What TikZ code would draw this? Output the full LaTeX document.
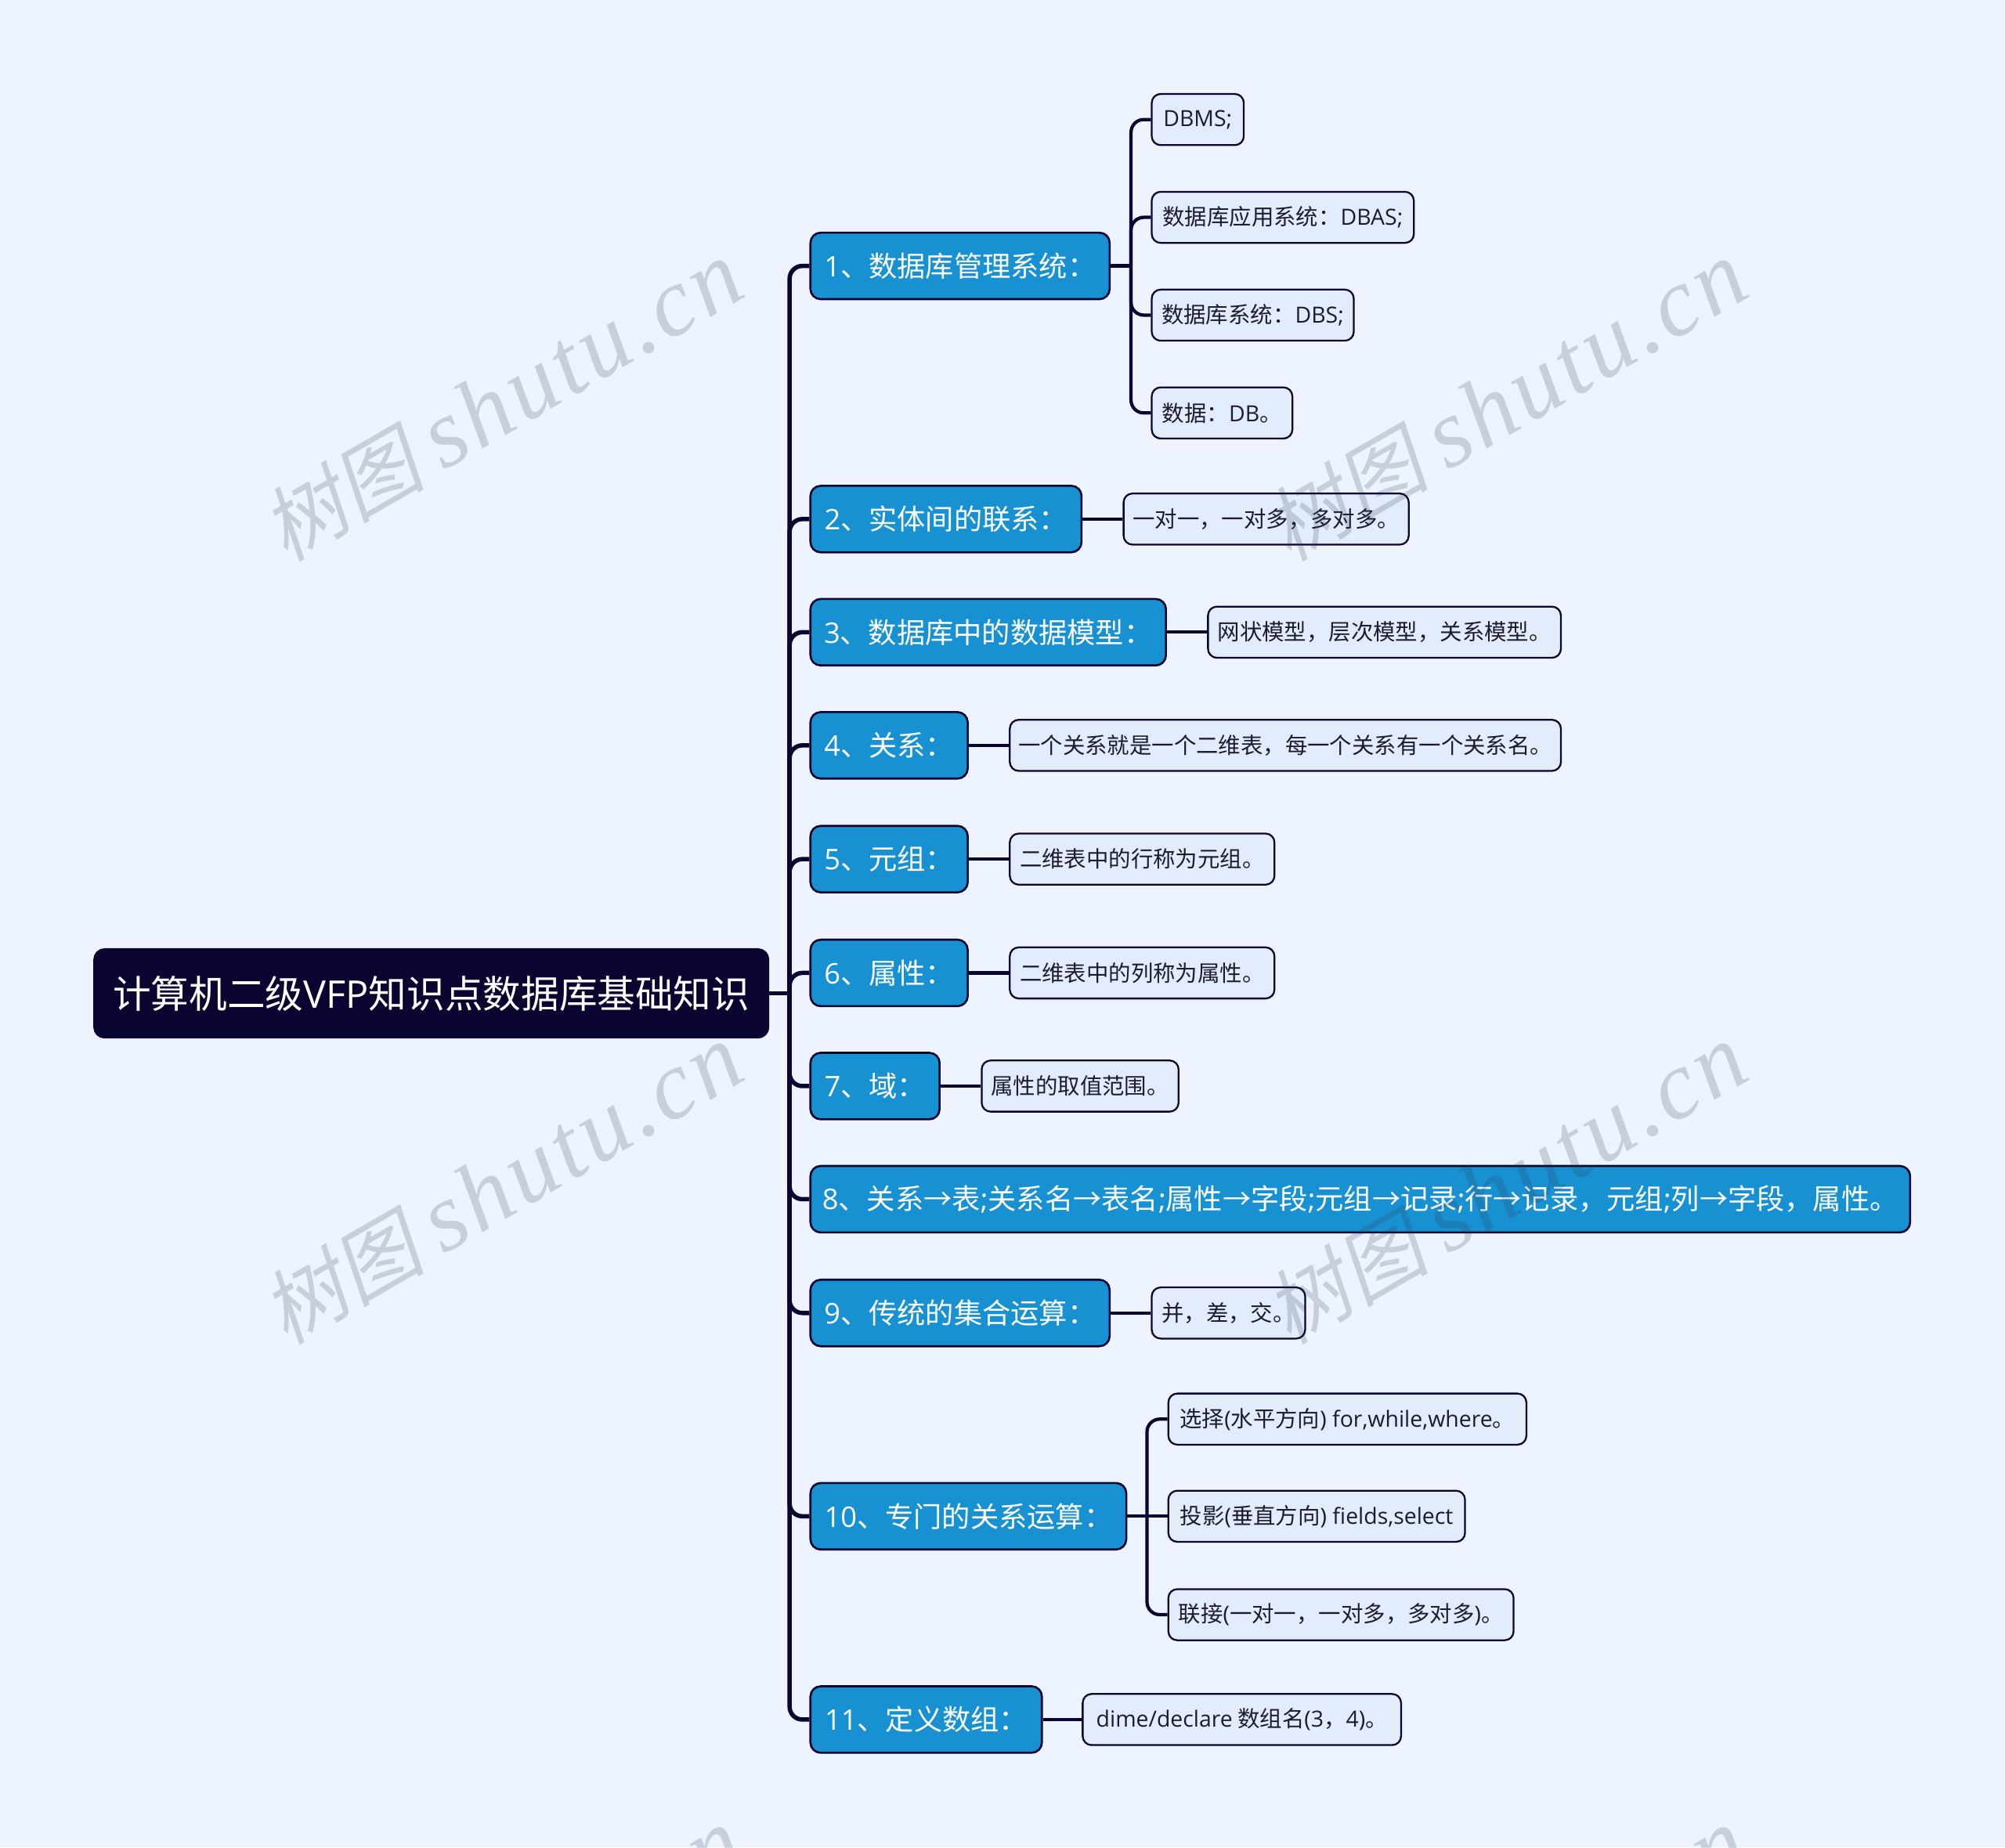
\documentclass[tikz,border=0pt]{standalone}
\usepackage{fontspec}
\usepackage{xcolor}
\usetikzlibrary{positioning}
\setmainfont{Noto Sans CJK SC}
\newfontfamily\latfont{Open Sans}
\newfontfamily\marklat{Liberation Serif}[ItalicFont=* Italic,LetterSpace=4]
\newfontfamily\markcjk{Noto Sans CJK SC}[FakeSlant=0.2]
\newcommand{\lat}[1]{{\latfont #1}}
\newcommand{\cma}{\symbol{"FF0C}}
\newcommand{\cln}{\symbol{"FF1A}}
\definecolor{bgcol}{HTML}{EEF4FF}
\definecolor{navy}{HTML}{0A0430}
\definecolor{topicblue}{HTML}{1791D2}
\definecolor{leaffill}{HTML}{E3ECFB}
\definecolor{leaftext}{HTML}{1C1C2C}
\definecolor{markcol}{HTML}{303B50}
\tikzset{
	rootbox/.style={anchor=west,draw=navy,fill=navy,text=white,rounded corners=4pt,line width=.8pt,minimum height=34.5pt,inner sep=0pt,font=\fontsize{14.9}{16}\selectfont},
	topicbox/.style={anchor=west,draw=navy,fill=topicblue,text=white,rounded corners=4pt,line width=.8pt,minimum height=26pt,inner sep=0pt,font=\fontsize{11.1}{13}\selectfont},
	leafbox/.style={anchor=west,draw=navy,fill=leaffill,text=leaftext,rounded corners=3.5pt,line width=.7pt,minimum height=20pt,inner sep=0pt,font=\fontsize{8.7}{10}\selectfont},
	trunk/.style={draw=navy,line width=1.7pt,rounded corners=5pt},
	twig/.style={draw=navy,line width=1.3pt,rounded corners=5pt},
	watermark/.style={rotate=30,text=markcol,text opacity=.2,font=\fontsize{32}{36}\selectfont}
}
\newcommand{\markit}{{\markcjk 树图} {\marklat\fontsize{38}{40}\selectfont\itshape shutu.cn}}
\begin{document}
\begin{tikzpicture}[x=.5pt,y=-.5pt]
		\useasboundingbox (0,0) rectangle (1568,1445);
		\clip (0,0) rectangle (1568,1445);
		\fill[bgcol] (0,0) rectangle (1568,1445);
		\node[rootbox,minimum width=263.5pt] (root) at (73,777) {计算机二级\lat{VFP}知识点数据库基础知识};
		\node[topicbox,minimum width=117pt] (t1) at (633,208) {\lat{1}、数据库管理系统\cln};
		\node[topicbox,minimum width=106pt] (t2) at (633,406) {\lat{2}、实体间的联系\cln};
		\node[topicbox,minimum width=139pt] (t3) at (633,494.5) {\lat{3}、数据库中的数据模型\cln};
		\node[topicbox,minimum width=61.5pt] (t4) at (633,583) {\lat{4}、关系\cln};
		\node[topicbox,minimum width=61.5pt] (t5) at (633,672) {\lat{5}、元组\cln};
		\node[topicbox,minimum width=61.5pt] (t6) at (633,761) {\lat{6}、属性\cln};
		\node[topicbox,minimum width=50.5pt] (t7) at (633,849.5) {\lat{7}、域\cln};
		\node[topicbox,minimum width=430pt] (t8) at (633,938) {\lat{8}、关系→表\lat{;}关系名→表名\lat{;}属性→字段\lat{;}元组→记录\lat{;}行→记录\cma 元组\lat{;}列→字段\cma 属性。};
		\node[topicbox,minimum width=117pt] (t9) at (633,1027) {\lat{9}、传统的集合运算\cln};
		\node[topicbox,minimum width=123.5pt] (t10) at (633,1186) {\lat{10}、专门的关系运算\cln};
		\node[topicbox,minimum width=90.5pt] (t11) at (633,1345) {\lat{11}、定义数组\cln};
		\node[leafbox,minimum width=36pt] (l1a) at (900,93.5) {\lat{DBMS;}};
		\node[leafbox,minimum width=102.5pt] (l1b) at (900,170) {数据库应用系统\cln\lat{DBAS;}};
		\node[leafbox,minimum width=79pt] (l1c) at (900,246.5) {数据库系统\cln\lat{DBS;}};
		\node[leafbox,minimum width=55pt] (l1d) at (900,323) {数据\cln\lat{DB}。};
		\node[leafbox,minimum width=111.5pt] (l2) at (878,406) {一对一\cma 一对多\cma 多对多。};
		\node[leafbox,minimum width=138pt] (l3) at (944,494.5) {网状模型\cma 层次模型\cma 关系模型。};
		\node[leafbox,minimum width=215.5pt] (l4) at (789,583) {一个关系就是一个二维表\cma 每一个关系有一个关系名。};
		\node[leafbox,minimum width=103.5pt] (l5) at (789,672) {二维表中的行称为元组。};
		\node[leafbox,minimum width=103.5pt] (l6) at (789,761) {二维表中的列称为属性。};
		\node[leafbox,minimum width=77pt] (l7) at (767,849.5) {属性的取值范围。};
		\node[leafbox,minimum width=60pt] (l9) at (900,1027) {并\cma 差\cma 交。};
		\node[leafbox,minimum width=140pt] (l10a) at (913,1110) {选择\lat{(}水平方向\lat{) for,while,where}。};
		\node[leafbox,minimum width=116pt] (l10b) at (913,1186) {投影\lat{(}垂直方向\lat{) fields,select}};
		\node[leafbox,minimum width=135pt] (l10c) at (913,1263) {联接\lat{(}一对一\cma 一对多\cma 多对多\lat{)}。};
		\node[leafbox,minimum width=124.5pt] (l11) at (846,1345) {\lat{dime/declare} 数组名\lat{(3}\cma\lat{4)}。};
		\coordinate (rootbus) at (617.5,777);
		\coordinate (bus1) at (884.5,208);
		\coordinate (bus10) at (897,1186);
		\draw[trunk] (root.east) -- (rootbus);
		\draw[trunk] (rootbus) |- (t1.west);
		\draw[trunk] (rootbus) |- (t2.west);
		\draw[trunk] (rootbus) |- (t3.west);
		\draw[trunk] (rootbus) |- (t4.west);
		\draw[trunk] (rootbus) |- (t5.west);
		\draw[trunk] (rootbus) |- (t6.west);
		\draw[trunk] (rootbus) |- (t7.west);
		\draw[trunk] (rootbus) |- (t8.west);
		\draw[trunk] (rootbus) |- (t9.west);
		\draw[trunk] (rootbus) |- (t10.west);
		\draw[trunk] (rootbus) |- (t11.west);
		\draw[twig] (t1.east) -- (bus1);
		\draw[twig] (bus1) |- (l1a.west);
		\draw[twig] (bus1) |- (l1b.west);
		\draw[twig] (bus1) |- (l1c.west);
		\draw[twig] (bus1) |- (l1d.west);
		\draw[twig] (t2.east) -- (l2.west);
		\draw[twig] (t3.east) -- (l3.west);
		\draw[twig] (t4.east) -- (l4.west);
		\draw[twig] (t5.east) -- (l5.west);
		\draw[twig] (t6.east) -- (l6.west);
		\draw[twig] (t7.east) -- (l7.west);
		\draw[twig] (t9.east) -- (l9.west);
		\draw[twig] (t10.east) -- (bus10);
		\draw[twig] (bus10) |- (l10a.west);
		\draw[twig] (bus10) |- (l10c.west);
		\draw[twig] (bus10) -- (l10b.west);
		\draw[twig] (t11.east) -- (l11.west);
		\node[watermark] (mark1) at (393,314) {\markit};
		\node[watermark] (mark2) at (1178,314) {\markit};
		\node[watermark] (mark3) at (393,927) {\markit};
		\node[watermark] (mark4) at (1178,927) {\markit};
		\node[watermark] (mark5) at (393,1540) {\markit};
		\node[watermark] (mark6) at (1178,1540) {\markit};
	\end{tikzpicture}
\end{document}
